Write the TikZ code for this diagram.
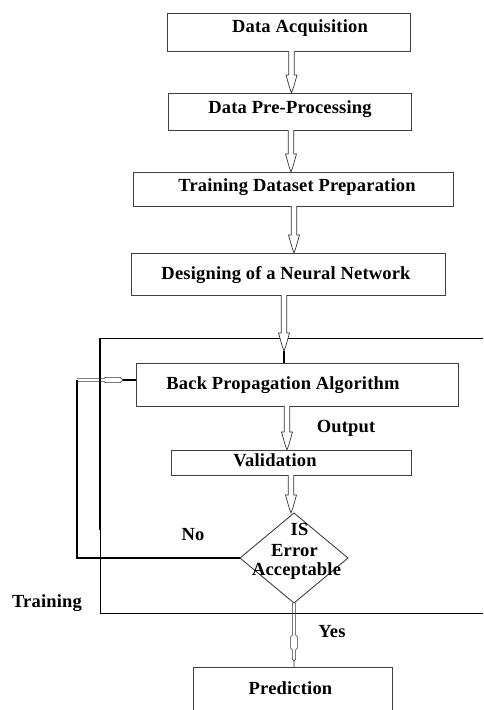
\documentclass[tikz,border=0pt]{standalone}
\usepackage{fontspec}
\setmainfont{Liberation Serif}[LetterSpace=1]
\usetikzlibrary{calc,shapes.geometric}

\tikzset{
  box/.style={draw=black!75, line width=0.9pt, rectangle, inner sep=0pt, outer sep=0pt},
  lbl/.style={anchor=base, inner sep=0pt, outer sep=0pt,
              font=\fontsize{18.5}{21}\selectfont\bfseries},
  frame/.style={draw=black, line width=0.8pt},
  fbline/.style={draw=black, line width=1.4pt},
  % hollow block arrow pointing down, drawn from start point to target level
  harrow/.style={draw=black!80, fill=white, line width=0.7pt,
    to path={let \p1=(\tikztostart), \p2=(\tikztotarget) in
      (\x1-2.8pt,\y1) -- (\x1-2.8pt,\y2+18pt) -- (\x1-5.5pt,\y2+18pt)
      -- (\x1-1.8pt,\y2+5pt) -- (\x1,\y2) -- (\x1+1.8pt,\y2+5pt)
      -- (\x1+5.5pt,\y2+18pt) -- (\x1+2.8pt,\y2+18pt) -- (\x1+2.8pt,\y1)}},
  % thin double connector with a small hollow bulge
  dlink/.style={draw=black!80, line width=0.6pt,
    to path={let \p1=(\tikztostart), \p2=(\tikztotarget) in
      (\x1-1.6pt,\y1) -- (\x1-1.6pt,\y1-32pt) -- (\x1-3.4pt,\y1-34pt)
      -- (\x1-3.4pt,\y1-45pt) -- (\x1-1.6pt,\y1-47pt) -- (\x1-1.6pt,\y2+8pt)
      -- (\x1,\y2+6pt)
      (\x1+1.6pt,\y1) -- (\x1+1.6pt,\y1-32pt) -- (\x1+3.4pt,\y1-34pt)
      -- (\x1+3.4pt,\y1-45pt) -- (\x1+1.6pt,\y1-47pt) -- (\x1+1.6pt,\y2+8pt)
      -- (\x1,\y2+6pt) -- (\x1,\y2)}},
}

\begin{document}
\begin{tikzpicture}[x=1pt,y=-1pt]
  \clip (0,0) rectangle (483,710);
  \fill[white] (0,0) rectangle (483,710);

  % process boxes
  \node[box, minimum width=243pt, minimum height=38pt] (da) at (288.5,32) {};
  \node[box, minimum width=243pt, minimum height=37pt] (dp) at (289.5,111.5) {};
  \node[box, minimum width=320pt, minimum height=34pt] (td) at (293,189) {};
  \node[box, minimum width=314pt, minimum height=42pt] (dn) at (288,274) {};
  \node[box, minimum width=322pt, minimum height=43pt] (bp) at (297,384.5) {};
  \node[box, minimum width=240pt, minimum height=25pt] (va) at (291,462.5) {};
  \node[box, diamond, aspect=1.2, minimum width=108pt, minimum height=90pt] (dm) at (294,558) {};
  \node[box, minimum width=199pt, minimum height=66pt] (pr) at (292.5,700) {};

  % training frame (open on the right)
  \coordinate (tl) at (100,338);
  \coordinate (tr) at (483,338);
  \coordinate (bl) at (100,613);
  \coordinate (br) at (483,613);
  \coordinate (tm) at (100,530);
  \draw[frame] (tr) -- (tl);
  \draw[frame] (tm) -- (bl) -- (br);
  \draw[fbline] (tl) -- (tm);

  % arrow columns
  \coordinate (c1) at (291.5,0);
  \coordinate (c2) at (291,0);
  \coordinate (c3) at (294,0);
  \coordinate (c4) at (284,351);
  \coordinate (c5) at (287,0);
  \coordinate (c6) at (291,0);

  \draw[harrow] (da.south -| c1) to (dp.north -| c1);
  \draw[harrow] (dp.south -| c2) to (td.north -| c2);
  \draw[harrow] (td.south -| c3) to (dn.north -| c3);
  \draw[harrow] (dn.south -| c4) to (c4);
  \draw[draw=black, line width=1.2pt] (c4) -- (c4 |- bp.north);
  \draw[harrow] (bp.south -| c5) to (va.north -| c5);
  \draw[harrow] (va.south -| c6) to (dm.north -| c6);
  \draw[dlink] (dm.south) to (pr.north -| dm.south);

  % feedback loop from the decision back to training
  \coordinate (fb1) at (77,558);
  \coordinate (fb2) at (77,380);
  \coordinate (fb3) at (123,380);
  \draw[fbline] (dm.west) -- (fb1) -- (fb2);
  \draw[draw=black, line width=1.2pt] (fb3) -- (fb3 -| bp.west);
  \draw[draw=black!80, line width=0.6pt]
    ($(fb2)+(0,-1.6)$) -- ($(fb2)+(28,-1.6)$) -- ($(fb2)+(28,-2.6)$)
    -- ($(fb2)+(43,-2.6)$) -- (fb3)
    ($(fb2)+(0,1.6)$) -- ($(fb2)+(28,1.6)$) -- ($(fb2)+(28,2.6)$)
    -- ($(fb2)+(43,2.6)$) -- (fb3);

  % labels
  \node[lbl] (tda) at (300,32) {Data Acquisition};
  \node[lbl] (tdp) at (290,113) {Data Pre-Processing};
  \node[lbl] (ttd) at (297,191) {Training Dataset Preparation};
  \node[lbl] (tdn) at (286,279) {Designing of a Neural Network};
  \node[lbl] (tbp) at (283,389) {Back Propagation Algorithm};
  \node[lbl] (tout) at (346,432) {Output};
  \node[lbl] (tva) at (275,466) {Validation};
  \node[lbl] (tis) at (299.5,535) {IS};
  \node[lbl] (ter) at (294.5,556.5) {Error};
  \node[lbl] (tac) at (296.5,575) {Acceptable};
  \node[lbl] (tno) at (193,540) {No};
  \node[lbl] (ttr) at (47,607) {Training};
  \node[lbl] (tye) at (332,637) {Yes};
  \node[lbl] (tpr) at (290.5,694) {Prediction};
\end{tikzpicture}
\end{document}
